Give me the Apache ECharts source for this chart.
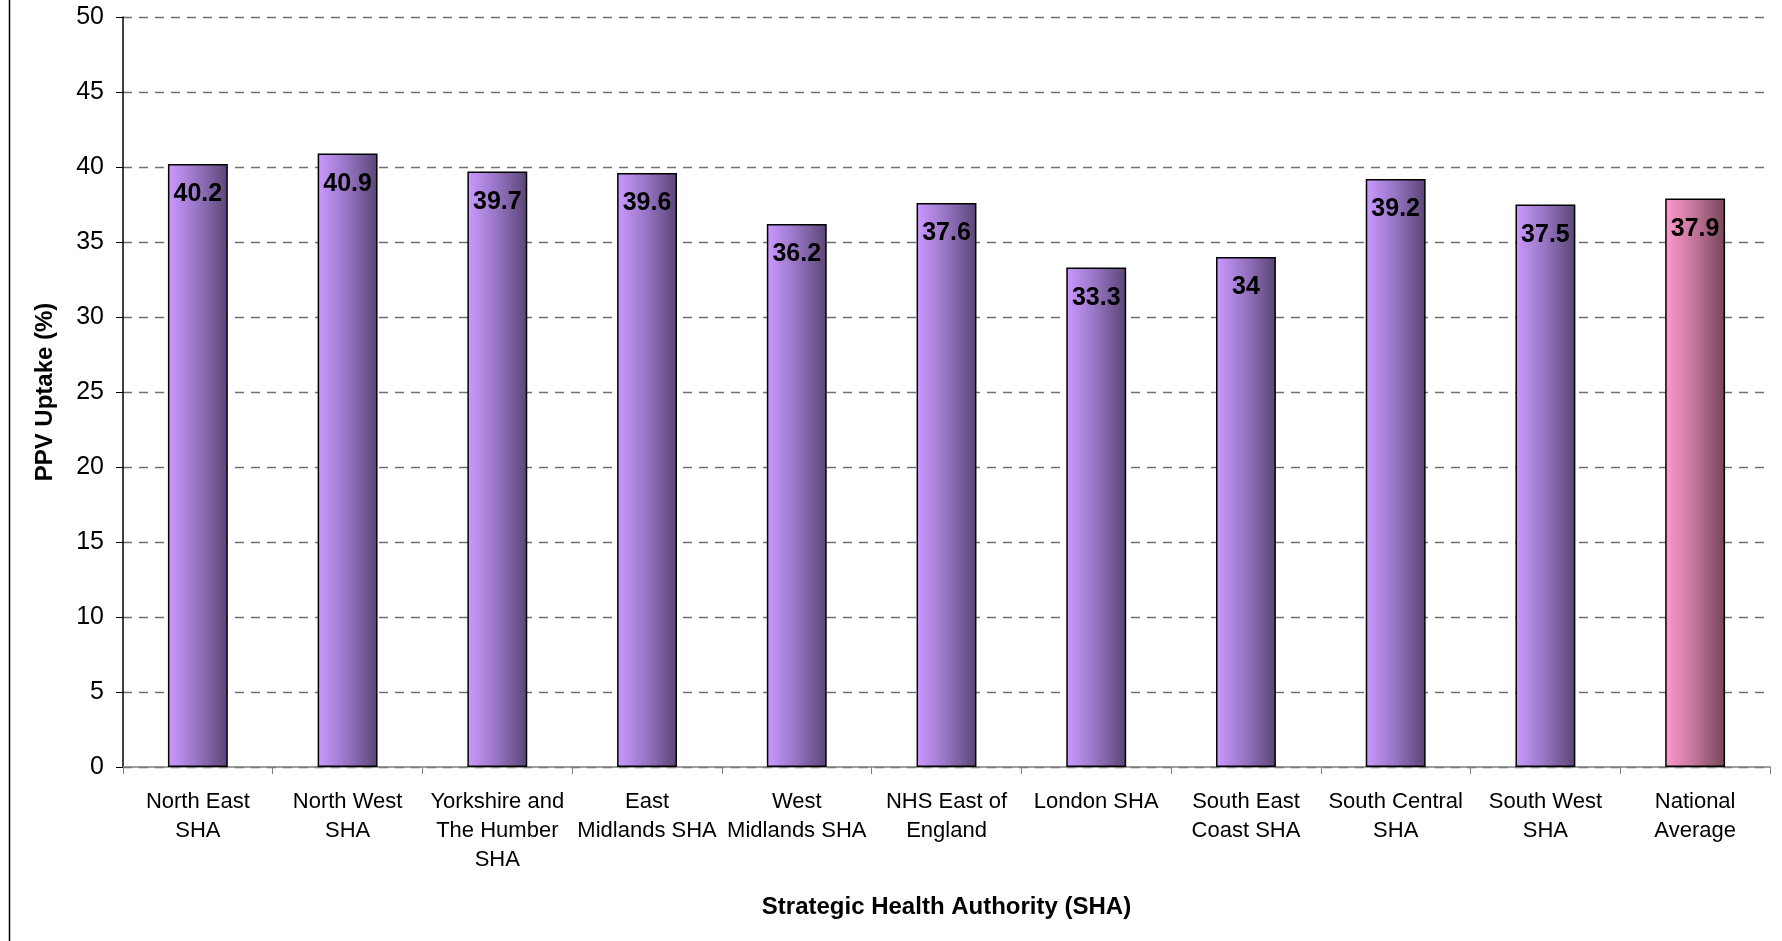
<!DOCTYPE html>
<html><head><meta charset="utf-8">
<script src="https://cdn.jsdelivr.net/npm/echarts@6/dist/echarts.min.js"></script>
<style>html,body{margin:0;padding:0;background:#fff}#c{width:1782px;height:941px}</style>
</head><body><div id="c"></div>
<script>
const categories = ["North East\nSHA","North West\nSHA","Yorkshire and\nThe Humber\nSHA","East\nMidlands SHA","West\nMidlands SHA","NHS East of\nEngland","London SHA","South East\nCoast SHA","South Central\nSHA","South West\nSHA","National\nAverage"];
const uptake = [40.2,40.9,39.7,39.6,36.2,37.6,33.3,34,39.2,37.5,37.9];
const averageCategory = "National\nAverage";

const purple = new echarts.graphic.LinearGradient(0,0,1,0,[{offset:0,color:'#CC99FF'},{offset:0.45,color:'#9B78C9'},{offset:1,color:'#5A4575'}]);
const pink = new echarts.graphic.LinearGradient(0,0,1,0,[{offset:0,color:'#FF99CC'},{offset:0.45,color:'#C9789E'},{offset:1,color:'#754559'}]);

const chart = echarts.init(document.getElementById('c'));
chart.setOption({
  animation:false,
  grid:{left:123,right:12,top:17,bottom:174},
  graphic:[{type:'line',shape:{x1:9.5,y1:0,x2:9.5,y2:941},style:{stroke:'#000',lineWidth:1.5}}],
  xAxis:{type:'category',data:categories,
    name:'Strategic Health Authority (SHA)',nameLocation:'middle',nameGap:128,
    nameTextStyle:{fontFamily:'Liberation Sans',fontWeight:'bold',fontSize:24,color:'#000'},
    axisLine:{lineStyle:{color:'#808080',width:1.5}},
    axisTick:{show:true,length:7,lineStyle:{color:'#808080'}},
    axisLabel:{interval:0,margin:20,fontFamily:'Liberation Sans',fontSize:22,lineHeight:29,color:'#000'}
  },
  yAxis:{type:'value',min:0,max:50,interval:5,
    name:'PPV Uptake (%)',nameLocation:'middle',nameGap:66,
    nameTextStyle:{fontFamily:'Liberation Sans',fontWeight:'bold',fontSize:24,color:'#000'},
    axisLine:{show:true,lineStyle:{color:'#000',width:1.5}},
    axisTick:{show:true,length:7,lineStyle:{color:'#000'}},
    axisLabel:{margin:19,fontFamily:'Liberation Sans',fontSize:25,color:'#000'},
    splitLine:{lineStyle:{color:'#707070',type:[9,7],width:1.3}}
  },
  series:[{type:'bar',data:uptake,barWidth:'40%',
    itemStyle:{borderColor:'#000',borderWidth:1.5,
      color:p=>categories[p.dataIndex]===averageCategory?pink:purple},
    label:{show:true,position:'insideTop',distance:18,fontFamily:'Liberation Sans',fontWeight:'bold',fontSize:25,color:'#000'}
  }]
});
</script></body></html>
